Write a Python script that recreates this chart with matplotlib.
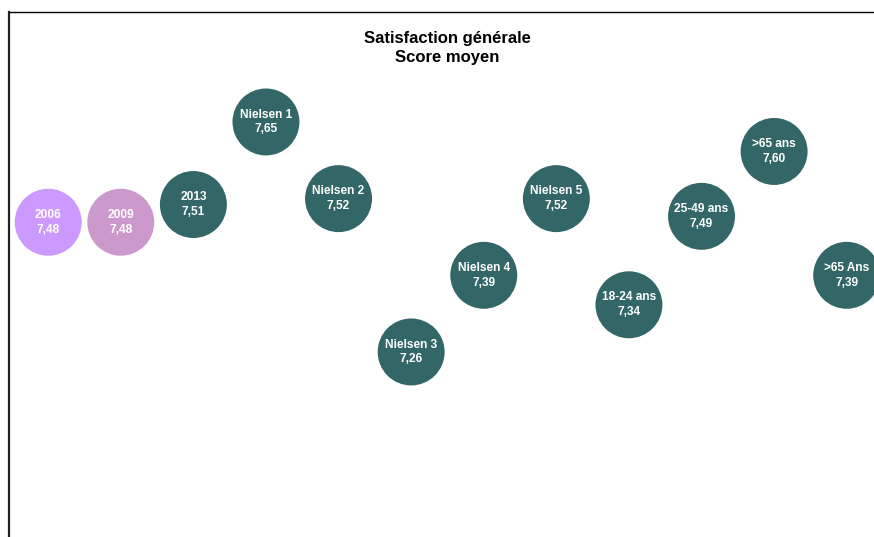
import matplotlib.pyplot as plt

labels = ["2006", "2009", "2013", "Nielsen 1", "Nielsen 2", "Nielsen 3",
          "Nielsen 4", "Nielsen 5", "18-24 ans", "25-49 ans", ">65 ans", ">65 Ans"]
scores = [7.48, 7.48, 7.51, 7.65, 7.52, 7.26, 7.39, 7.52, 7.34, 7.49, 7.60, 7.39]

# Colours: the two older surveys stand out, the rest share the teal
colors = ["#CC99FF", "#CC99CC"] + ["#336666"] * (len(labels) - 2)

W, H = 874, 537
fig = plt.figure(figsize=(W / 100, H / 100), dpi=100)
plt.rcParams['font.family'] = ['Liberation Sans', 'DejaVu Sans']

# Axes frame starts at (9, 12) px and runs past the right/bottom edges
left_px, top_px = 9, 12
right_px, bottom_px = 883, 565
ax = fig.add_axes([left_px / W, 1 - bottom_px / H,
                   (right_px - left_px) / W, (bottom_px - top_px) / H])

xs = list(range(len(labels)))
ax.scatter(xs, scores, s=2325, c=colors, linewidths=0, zorder=2, clip_on=False)
for x, lab, v in zip(xs, labels, scores):
    ax.text(x, v, f"{lab}\n{v:.2f}".replace(".", ","), ha="center", va="center",
            color="white", fontsize=8.6, fontweight="bold", linespacing=1.3,
            zorder=3, clip_on=False)

ax.set_xlim(-0.54, 11.5)
ax.set_ylim(6.8987, 7.8365)
ax.set_xticks([]); ax.set_yticks([])
ax.spines["right"].set_visible(False)
ax.spines["bottom"].set_visible(False)
ax.spines["top"].set_linewidth(1.0)
ax.spines["left"].set_linewidth(1.6)
ax.spines["left"].set_color("#222222")

fig.text(447 / W, 1 - 48 / H, "Satisfaction générale\nScore moyen", ha="center",
         va="center", fontsize=12, fontweight="bold", linespacing=1.4)

fig.savefig("out.png", dpi=100)
